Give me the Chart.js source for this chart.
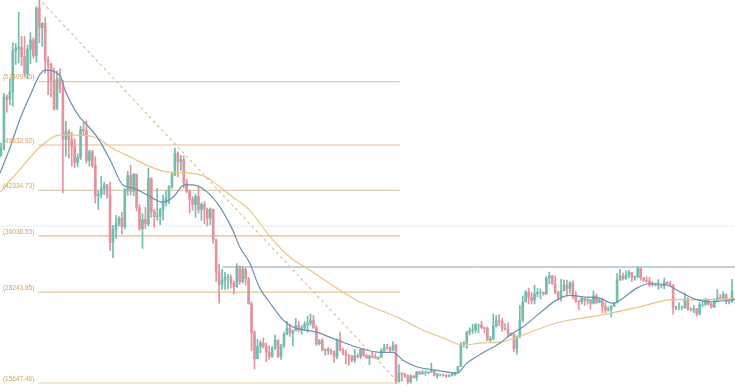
<!DOCTYPE html>
<html>
<head>
<meta charset="utf-8">
<script src="https://cdn.jsdelivr.net/npm/chart.js@4.4.0/dist/chart.umd.min.js"></script>
<style>
  html, body { margin: 0; padding: 0; background: #fff; }
  #wrap { width: 735px; height: 392px; }
</style>
</head>
<body>
<div id="wrap"><canvas id="btcChart" width="735" height="392"></canvas></div>
<script>
// 3-day candles, prices in thousand USD, first candle starts on day 0
const opens = [
  47.3, 48.2, 55.3, 55.0, 56.0, 61.7, 62.0, 62.2, 60.9, 58.5,
  61.9, 63.2, 61.0, 67.6, 64.9, 65.5, 60.4, 59.8, 57.6, 53.6,
  57.8, 56.5, 49.4, 50.5, 49.4, 48.4, 46.2, 46.9, 50.8, 50.6,
  46.5, 47.7, 45.8, 41.6, 41.8, 42.6, 43.1, 41.7, 35.1, 36.9,
  37.7, 38.5, 37.3, 42.4, 44.4, 42.2, 44.6, 40.0, 37.0, 38.3,
  37.7, 44.0, 39.4, 38.7, 38.8, 39.7, 40.9, 41.3, 42.9, 44.5,
  47.5, 46.3, 46.6, 43.4, 42.2, 41.1, 40.4, 41.5, 39.7, 40.4,
  39.7, 38.5, 39.7, 35.5, 31.0, 29.3, 29.9, 30.3, 30.3, 29.5,
  29.0, 31.8, 29.7, 31.4, 30.1, 26.6, 22.6, 19.0, 20.7, 21.2,
  20.7, 19.9, 19.3, 20.5, 21.6, 19.3, 20.8, 22.4, 23.2, 22.6,
  22.9, 23.6, 23.0, 23.3, 23.8, 23.9, 24.3, 23.3, 21.1, 21.5,
  20.2, 20.3, 20.1, 20.0, 19.3, 21.6, 20.2, 19.8, 19.5, 19.4,
  18.8, 19.4, 19.3, 20.3, 19.5, 19.1, 19.4, 19.3, 19.1, 19.2,
  20.1, 20.6, 20.5, 20.2, 20.9, 15.9, 17.0, 16.9, 16.7, 15.8,
  16.6, 16.4, 17.2, 16.9, 17.1, 17.1, 17.2, 17.4, 16.7, 16.8,
  16.8, 16.7, 16.6, 16.7, 16.8, 17.1, 17.9, 21.0, 21.1, 22.7,
  22.9, 23.0, 23.7, 23.7, 23.3, 23.2, 21.6, 21.8, 23.5, 24.3,
  24.2, 23.2, 23.1, 22.4, 22.4, 20.4, 22.1, 24.4, 26.9, 28.2,
  27.5, 27.1, 28.0, 28.2, 28.2, 28.0, 30.2, 30.5, 29.4, 28.2,
  27.6, 28.4, 29.2, 28.7, 29.5, 27.7, 27.0, 26.9, 27.4, 27.1,
  27.2, 26.7, 27.7, 26.8, 27.1, 26.3, 25.8, 25.9, 26.3, 26.8,
  29.9, 30.5, 30.1, 30.6, 31.0, 30.3, 30.4, 31.5, 30.2, 29.9,
  29.8, 29.3, 29.3, 29.2, 29.2, 29.1, 29.6, 29.4, 29.2, 26.1,
  26.1, 26.1, 26.1, 27.3, 25.9, 25.8, 25.9, 25.2, 26.5, 26.5,
  27.1, 26.6, 26.2, 27.0, 27.5, 27.4, 27.9, 26.9, 26.9
];
const highs = [
  48.9, 55.8, 55.6, 57.8, 62.8, 62.7, 67.0, 63.7, 63.7, 62.5,
  64.2, 63.5, 67.8, 69.0, 65.6, 66.3, 60.9, 60.0, 59.3, 58.9,
  59.2, 57.6, 51.9, 50.8, 50.4, 49.5, 47.4, 51.2, 51.8, 52.0,
  47.9, 47.9, 47.0, 42.3, 44.3, 43.5, 43.2, 43.5, 37.5, 38.9,
  38.7, 39.3, 42.6, 45.0, 45.8, 44.7, 44.6, 40.4, 39.1, 40.0,
  45.4, 44.1, 39.7, 42.6, 39.9, 41.7, 42.3, 43.0, 44.8, 48.2,
  47.7, 47.2, 47.1, 43.9, 42.4, 41.5, 41.8, 42.9, 40.6, 40.8,
  39.9, 39.9, 39.8, 35.6, 32.1, 31.4, 31.0, 30.7, 30.6, 29.8,
  32.2, 31.9, 31.8, 31.6, 30.3, 26.9, 22.9, 21.7, 21.5, 21.9,
  21.2, 20.8, 20.7, 22.3, 21.6, 21.0, 22.7, 24.2, 23.8, 23.0,
  24.6, 24.2, 23.6, 24.2, 24.9, 25.2, 25.0, 23.6, 21.7, 21.8,
  20.4, 20.6, 20.4, 20.1, 21.8, 22.7, 20.5, 20.2, 19.6, 19.5,
  20.3, 19.7, 20.4, 20.4, 19.6, 19.5, 19.9, 19.7, 19.3, 20.4,
  21.0, 21.0, 20.7, 21.4, 21.0, 18.2, 17.1, 17.0, 16.8, 16.8,
  16.7, 17.2, 17.3, 17.4, 17.3, 17.2, 18.4, 17.5, 17.0, 16.9,
  16.9, 16.8, 16.8, 17.0, 17.1, 18.0, 21.3, 21.4, 22.8, 23.3,
  23.8, 23.9, 23.8, 24.2, 23.4, 23.4, 22.1, 25.2, 25.0, 25.1,
  24.6, 23.9, 24.0, 22.6, 22.5, 22.2, 26.4, 27.7, 28.5, 28.8,
  28.2, 29.2, 28.8, 28.7, 28.3, 30.4, 31.0, 30.6, 30.5, 28.4,
  30.0, 29.9, 29.9, 29.7, 29.8, 28.3, 27.1, 27.6, 27.5, 27.5,
  27.2, 28.4, 28.0, 27.4, 27.4, 26.8, 26.2, 26.4, 26.8, 30.8,
  31.4, 30.9, 31.2, 31.3, 31.0, 30.5, 31.8, 31.6, 30.3, 30.4,
  30.3, 29.7, 29.5, 30.0, 29.3, 30.2, 29.7, 29.7, 29.3, 26.3,
  26.8, 26.3, 28.1, 27.5, 26.1, 26.4, 26.0, 26.8, 26.8, 27.4,
  27.2, 26.7, 27.3, 28.6, 27.9, 28.3, 28.0, 27.0, 30.0
];
const lows = [
  47.0, 47.9, 53.2, 54.2, 54.0, 59.8, 60.0, 59.6, 58.1, 57.8,
  59.9, 60.7, 60.1, 62.8, 62.3, 58.6, 55.6, 55.3, 53.5, 53.6,
  55.9, 42.0, 47.1, 46.8, 45.7, 45.5, 45.6, 46.6, 50.0, 46.1,
  45.7, 45.5, 40.6, 39.7, 41.3, 41.8, 41.3, 34.0, 33.0, 35.7,
  37.4, 36.3, 37.0, 41.7, 41.7, 41.6, 39.5, 36.8, 34.3, 37.0,
  37.4, 38.6, 37.2, 38.2, 37.6, 38.2, 40.2, 40.5, 42.6, 44.4,
  44.2, 45.1, 42.7, 42.0, 39.2, 39.6, 38.6, 39.2, 38.2, 37.7,
  37.4, 37.6, 35.0, 29.7, 26.7, 28.6, 28.6, 28.7, 28.8, 28.0,
  28.9, 29.3, 29.5, 29.2, 26.6, 20.1, 17.6, 19.0, 19.8, 20.5,
  18.6, 18.9, 19.2, 20.3, 19.2, 18.9, 20.5, 22.3, 22.1, 20.8,
  22.9, 22.7, 22.4, 22.9, 22.7, 23.6, 23.2, 20.8, 20.9, 20.1,
  19.5, 19.6, 19.6, 18.5, 19.0, 20.1, 19.5, 18.3, 18.1, 18.6,
  18.5, 19.1, 19.0, 19.3, 19.1, 18.2, 19.1, 19.1, 18.9, 19.2,
  20.0, 20.3, 20.0, 20.1, 15.6, 15.8, 15.9, 16.4, 15.5, 15.6,
  16.3, 16.0, 16.8, 16.9, 16.7, 16.9, 17.1, 16.6, 16.3, 16.6,
  16.6, 16.4, 16.5, 16.6, 16.7, 17.1, 17.9, 20.6, 20.4, 22.3,
  22.5, 22.6, 22.6, 23.2, 22.6, 21.5, 21.4, 21.6, 23.4, 23.6,
  22.8, 23.0, 22.1, 22.2, 20.0, 19.6, 21.9, 24.1, 26.9, 26.6,
  26.6, 26.6, 27.6, 27.3, 27.8, 27.9, 29.4, 29.3, 28.0, 27.1,
  27.0, 28.9, 27.7, 28.1, 27.3, 26.8, 25.8, 26.6, 26.4, 26.6,
  25.9, 26.6, 26.6, 26.8, 25.4, 25.4, 25.6, 24.8, 26.2, 26.7,
  29.9, 29.9, 30.0, 30.2, 29.7, 29.9, 30.2, 29.9, 29.7, 29.6,
  29.0, 29.1, 29.1, 28.6, 28.8, 28.7, 29.3, 29.1, 25.2, 25.8,
  25.8, 25.8, 26.0, 25.7, 25.6, 25.4, 24.9, 25.1, 26.2, 26.4,
  26.4, 26.0, 26.1, 26.9, 27.2, 27.2, 26.6, 26.6, 26.8
];
const closes = [
  48.2, 55.3, 55.0, 56.0, 61.7, 62.0, 62.2, 60.9, 58.5, 61.9,
  63.2, 61.0, 67.6, 64.9, 65.5, 60.4, 59.8, 57.6, 53.6, 57.8,
  56.5, 49.4, 50.5, 49.4, 48.4, 46.2, 46.9, 50.8, 50.6, 46.5,
  47.7, 45.8, 41.6, 41.8, 42.6, 43.1, 41.7, 35.1, 36.9, 37.7,
  38.5, 37.3, 42.4, 44.4, 42.2, 44.6, 40.0, 37.0, 38.3, 37.7,
  44.0, 39.4, 38.7, 38.8, 39.7, 40.9, 41.3, 42.9, 44.5, 47.5,
  46.3, 46.6, 43.4, 42.2, 41.1, 40.4, 41.5, 39.7, 40.4, 39.7,
  38.5, 39.7, 35.5, 31.0, 29.3, 29.9, 30.3, 30.3, 29.5, 29.0,
  31.8, 29.7, 31.4, 30.1, 26.6, 22.6, 19.0, 20.7, 21.2, 20.7,
  19.9, 19.3, 20.5, 21.6, 19.3, 20.8, 22.4, 23.2, 22.6, 22.9,
  23.6, 23.0, 23.3, 23.8, 23.9, 24.3, 23.3, 21.1, 21.5, 20.2,
  20.3, 20.1, 20.0, 19.3, 21.6, 20.2, 19.8, 19.5, 19.4, 18.8,
  19.4, 19.3, 20.3, 19.5, 19.1, 19.4, 19.3, 19.1, 19.2, 20.1,
  20.6, 20.5, 20.2, 20.9, 15.9, 17.0, 16.9, 16.7, 15.8, 16.6,
  16.4, 17.2, 16.9, 17.1, 17.1, 17.2, 17.4, 16.7, 16.8, 16.8,
  16.7, 16.6, 16.7, 16.8, 17.1, 17.9, 21.0, 21.1, 22.7, 22.9,
  23.0, 23.7, 23.7, 23.3, 23.2, 21.6, 21.8, 23.5, 24.3, 24.2,
  23.2, 23.1, 22.4, 22.4, 20.4, 22.1, 24.4, 26.9, 28.2, 27.5,
  27.1, 28.0, 28.2, 28.2, 28.0, 30.2, 30.5, 29.4, 28.2, 27.6,
  28.4, 29.2, 28.7, 29.5, 27.7, 27.0, 26.9, 27.4, 27.1, 27.2,
  26.7, 27.7, 26.8, 27.1, 26.3, 25.8, 25.9, 26.3, 26.8, 29.9,
  30.5, 30.1, 30.6, 31.0, 30.3, 30.4, 31.5, 30.2, 29.9, 29.8,
  29.3, 29.3, 29.2, 29.2, 29.1, 29.6, 29.4, 29.2, 26.1, 26.1,
  26.1, 26.1, 27.3, 25.9, 25.8, 25.9, 25.2, 26.5, 26.5, 27.1,
  26.6, 26.2, 27.0, 27.5, 27.4, 27.9, 26.9, 26.9, 28.4
];
const candleStep = 3;   // days per candle
const totalDays = 748;

// moving averages (day, price)
const maFastDays = [0, 10, 20, 31, 41, 46, 61, 66, 81, 86, 99, 112, 125, 135, 150, 166, 176, 188, 196, 211, 224, 237, 244, 254, 264, 275, 288, 298, 322, 343, 366, 387, 400, 410, 424, 445, 465, 475, 491, 509, 519, 532, 549, 567, 580, 593, 610, 624, 634, 648, 661, 679, 692, 709, 722, 748];
const maFastVals = [44.75, 48.2, 52.1, 55.6, 58.5, 59.0, 58.3, 56.3, 52.5, 51.8, 49.7, 46.6, 43.1, 42.7, 41.7, 40.7, 41.4, 43.1, 43.1, 42.1, 40.0, 36.8, 34.5, 32.3, 28.9, 26.7, 24.4, 23.4, 22.7, 21.6, 20.5, 19.9, 19.9, 18.8, 17.9, 17.4, 17.0, 18.4, 19.8, 21.2, 22.3, 23.4, 25.3, 27.2, 27.8, 27.6, 27.4, 26.7, 27.4, 28.8, 29.4, 29.2, 28.3, 27.2, 26.9, 27.2];
const maSlowDays = [0, 20, 41, 61, 78, 99, 112, 135, 153, 170, 190, 211, 224, 237, 254, 275, 295, 315, 346, 366, 404, 430, 451, 471, 491, 509, 532, 567, 600, 624, 651, 685, 709, 748];
const maSlowVals = [42.1, 45.2, 48.4, 50.0, 50.0, 49.6, 48.4, 46.8, 45.6, 44.9, 44.8, 44.1, 42.8, 41.4, 39.6, 35.9, 33.1, 31.3, 28.5, 26.9, 24.8, 23.0, 21.9, 20.9, 21.2, 21.3, 22.3, 24.0, 24.8, 25.4, 26.2, 27.2, 27.2, 27.3];

// fibonacci retracement, high to low
const fibLevels = [57409.45, 48632.92, 42334.73, 36036.53, 28243.85, 15647.46];
const fibColors = ['#d8ccb2', '#ebb987', '#d8ccb2', '#ebb987', '#e6c79c', '#e6cfa8'];
const fibStart = 39, fibEnd = 407;

const trendDays = [39, 406];
const trendVals = [69.0, 15.65];
const resistanceVal = 31.72, resistanceStart = 226;
const guideVal = 37.4;

const upColor = '#72bdae';
const downColor = '#e3939e';

const candleDays = closes.map((c, i) => i * candleStep + 1);
const candleColors = closes.map((c, i) => c >= opens[i] ? upColor : downColor);

const wickData = candleDays.map((d, i) => ({ x: d, y: [lows[i], highs[i]] }));
const bodyData = candleDays.map((d, i) => ({ x: d, y: [opens[i], closes[i]] }));
const toPoints = (xs, ys) => xs.map((x, i) => ({ x: x, y: ys[i] }));

const datasets = [
    {
        type: 'line', data: toPoints(maFastDays, maFastVals),
        borderColor: '#6a8fae', borderWidth: 1.2, pointRadius: 0,
        cubicInterpolationMode: 'monotone', order: 1
    },
    {
        type: 'line', data: toPoints(maSlowDays, maSlowVals),
        borderColor: '#e8c581', borderWidth: 1.2, pointRadius: 0,
        cubicInterpolationMode: 'monotone', order: 1
    },
    {
        type: 'bar', data: bodyData, backgroundColor: candleColors,
        barThickness: 2, grouped: false, order: 2
    },
    {
        type: 'bar', data: wickData, backgroundColor: candleColors,
        barThickness: 1, grouped: false, order: 3
    },
    {
        type: 'line', data: toPoints(trendDays, trendVals),
        borderColor: '#dcc39a', borderWidth: 1.2, borderDash: [3, 3],
        pointRadius: 0, order: 4
    },
    {
        type: 'line', data: toPoints([resistanceStart, totalDays], [resistanceVal, resistanceVal]),
        borderColor: '#86a5bd', borderWidth: 1, pointRadius: 0, order: 5
    },
    {
        type: 'line', data: toPoints([0, totalDays], [guideVal, guideVal]),
        borderColor: '#d3e4ef', borderWidth: 1, borderDash: [2, 1], pointRadius: 0, order: 5
    }
];

fibLevels.forEach((lvl, i) => {
    datasets.push({
        type: 'line',
        data: toPoints([fibStart, fibEnd], [lvl / 1000, lvl / 1000]),
        borderColor: fibColors[i], borderWidth: 1.2, pointRadius: 0, order: 6
    });
});

// draws "(level)" text at the left end of each fib line
const fibLabels = {
    id: 'fibLabels',
    afterDatasetsDraw(chart) {
        const { ctx, scales } = chart;
        ctx.save();
        ctx.font = '6.5px "Liberation Sans", Arial, sans-serif';
        ctx.fillStyle = '#d6a25e';
        ctx.textAlign = 'right';
        ctx.textBaseline = 'middle';
        const x = scales.x.getPixelForValue(fibStart) - 4;
        fibLevels.forEach(lvl => {
            const y = scales.y.getPixelForValue(lvl / 1000) - 4;
            ctx.fillText('(' + lvl.toFixed(2) + ')', x, y);
        });
        ctx.restore();
    }
};

const ctx = document.getElementById('btcChart').getContext('2d');
new Chart(ctx, {
    type: 'bar',
    data: { datasets: datasets },
    options: {
        responsive: false,
        animation: false,
        layout: { padding: 0 },
        plugins: { legend: { display: false }, tooltip: { enabled: false } },
        scales: {
            x: { type: 'linear', min: 0, max: totalDays, offset: false, display: false },
            y: { min: 14.4, max: 68.73, display: false }
        }
    },
    plugins: [fibLabels]
});
</script>
</body>
</html>
